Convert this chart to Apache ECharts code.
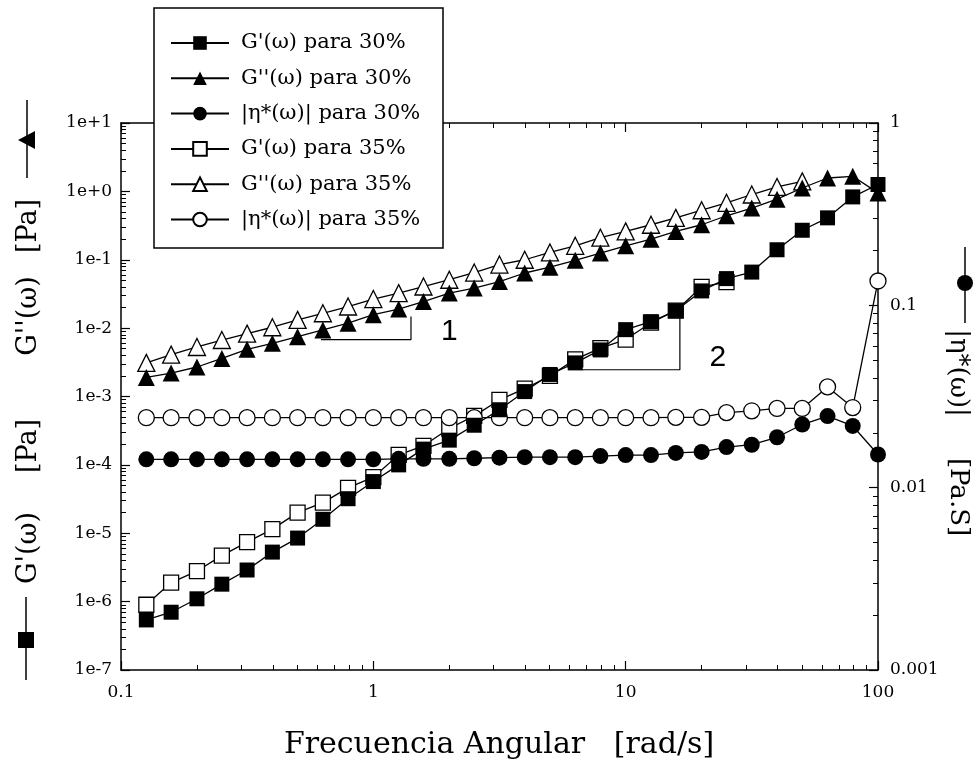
<!DOCTYPE html>
<html lang="es">
<head>
<meta charset="UTF-8">
<title>Frecuencia Angular</title>
<script src="https://cdn.jsdelivr.net/npm/echarts@6/dist/echarts.min.js"></script>
<style>
  html, body { margin: 0; padding: 0; background: #fff; }
  #app { width: 979px; height: 767px; }
</style>
</head>
<body>
<div id="app"></div>
<script>
// frecuencia angular [rad/s]
const freq = [0.126, 0.158, 0.2, 0.251, 0.316, 0.398, 0.501, 0.631, 0.794, 1,
  1.26, 1.58, 2, 2.51, 3.16, 3.98, 5.01, 6.31, 7.94, 10,
  12.6, 15.8, 20, 25.1, 31.6, 39.8, 50.1, 63.1, 79.4, 100]

// G' y G'' [Pa]
const gp30 = [5.4e-7, 7e-7, 1.1e-6, 1.8e-6, 2.9e-6, 5.3e-6, 8.5e-6, 1.6e-5, 3.2e-5, 5.7e-5,
  1.0e-4, 1.7e-4, 2.3e-4, 3.8e-4, 6.4e-4, 1.18e-3, 2.1e-3, 3.1e-3, 4.8e-3, 9.5e-3,
  1.24e-2, 1.8e-2, 3.5e-2, 5.3e-2, 6.6e-2, 0.14, 0.27, 0.41, 0.83, 1.26]
const gpp30 = [1.9e-3, 2.2e-3, 2.7e-3, 3.6e-3, 4.9e-3, 6.0e-3, 7.5e-3, 9.4e-3, 1.18e-2, 1.57e-2,
  1.9e-2, 2.45e-2, 3.25e-2, 3.85e-2, 0.048, 0.064, 0.078, 0.098, 0.125, 0.16,
  0.20, 0.26, 0.325, 0.44, 0.57, 0.77, 1.12, 1.57, 1.66, 0.95]
const gp35 = [9e-7, 1.9e-6, 2.8e-6, 4.7e-6, 7.4e-6, 1.15e-5, 2e-5, 2.8e-5, 4.6e-5, 6.6e-5,
  1.4e-4, 1.9e-4, 3.4e-4, 5.2e-4, 8.9e-4, 1.3e-3, 2.0e-3, 3.5e-3, 5.1e-3, 6.8e-3,
  1.2e-2, 1.8e-2, 4.0e-2, 4.7e-2]
const gpp35 = [3.1e-3, 4.1e-3, 5.3e-3, 6.7e-3, 8.3e-3, 1.03e-2, 1.32e-2, 1.65e-2, 2.07e-2, 2.66e-2,
  3.25e-2, 4.06e-2, 5.1e-2, 6.5e-2, 0.085, 0.10, 0.128, 0.16, 0.21, 0.26,
  0.325, 0.41, 0.53, 0.68, 0.9, 1.16, 1.4]

// |eta*| [Pa.s] (eje derecho)
const eta30 = [0.0143, 0.0143, 0.0143, 0.0143, 0.0143, 0.0143, 0.0143, 0.0143, 0.0143, 0.0143,
  0.0144, 0.0144, 0.0144, 0.0145, 0.0146, 0.0147, 0.0147, 0.0147, 0.0149, 0.0151,
  0.0151, 0.0155, 0.0157, 0.0167, 0.0172, 0.0189, 0.0222, 0.0247, 0.0218, 0.0152]
const eta35 = [0.0242, 0.0242, 0.0242, 0.0242, 0.0242, 0.0242, 0.0242, 0.0242, 0.0242, 0.0242,
  0.0242, 0.0242, 0.0242, 0.0242, 0.0242, 0.0242, 0.0242, 0.0242, 0.0242, 0.0242,
  0.0242, 0.0243, 0.0243, 0.0258, 0.0264, 0.0272, 0.0272, 0.0357, 0.0275, 0.136]

// pendientes
const slope1X = [0.62, 1.41, 1.41]
const slope1Y = [6.8e-3, 6.8e-3, 1.48e-2]
const slope2X = [6.7, 16.4, 16.4]
const slope2Y = [2.46e-3, 2.46e-3, 1.88e-2]
const slopeText = ['1', '2']
const slopeTextX = [2.0, 23.2]
const slopeTextY = [8.8e-3, 3.7e-3]

// etiquetas de los ejes
const xTickLabels = ['0.1', '1', '10', '100']
const yLeftLabels = ['1e-7', '1e-6', '1e-5', '1e-4', '1e-3', '1e-2', '1e-1', '1e+0', '1e+1']
const yRightLabels = ['0.001', '0.01', '0.1', '1']

const serif = 'DejaVu Serif'
let mCharts = echarts.init(document.getElementById('app'))

function pairs(xs, ys) {
  return ys.map((v, i) => [xs[i], v])
}
function minors(from, to) {
  let out = []
  for (let d = from; d < to; d++) {
    for (let k = 2; k <= 9; k++) out.push(d + Math.log10(k))
  }
  return out
}

const black = { color: '#000', width: 1.5 }
// ejes "de adorno" en espacio log10, solo para marcas y etiquetas
function tickAxis(pos, min, max, major, labels, minorVals) {
  return {
    type: 'value', position: pos, min: min, max: max, interval: 1,
    axisLine: { show: major, onZero: false, lineStyle: black },
    axisTick: major
      ? { show: true, inside: true, length: 9, lineStyle: { color: '#000', width: 1.2 } }
      : { show: true, inside: true, length: 5, customValues: minorVals, lineStyle: { color: '#000', width: 1 } },
    axisLabel: labels
      ? { show: true, color: '#000', fontFamily: serif, fontSize: 17,
          margin: pos === 'bottom' ? 14 : (pos === 'left' ? 9 : 12),
          formatter: v => labels[Math.round(v - min)] }
      : { show: false },
    splitLine: { show: false }
  }
}

const filled = (name, sym, size, data, yIdx) => ({
  name: name, type: 'line', data: data, xAxisIndex: 0, yAxisIndex: yIdx, z: 4,
  symbol: sym, symbolSize: size, showAllSymbol: true,
  itemStyle: { color: '#000' }, lineStyle: { color: '#000', width: 1.3 }
})
const hollow = (name, sym, size, data, yIdx) => ({
  name: name, type: 'line', data: data, xAxisIndex: 0, yAxisIndex: yIdx, z: 3,
  symbol: sym, symbolSize: size, showAllSymbol: true,
  itemStyle: { color: '#fff', borderColor: '#000', borderWidth: 1.3 },
  lineStyle: { color: '#000', width: 1.3 }
})
const bracket = (name, xs, ys) => ({
  name: name, type: 'line', data: pairs(xs, ys), xAxisIndex: 0, yAxisIndex: 0, z: 2,
  symbol: 'none', lineStyle: { color: '#000', width: 1.2 }
})

const names = ["G'(ω) para 30%", "G''(ω) para 30%", '|η*(ω)| para 30%',
  "G'(ω) para 35%", "G''(ω) para 35%", '|η*(ω)| para 35%']

const vText = (txt, x, y, rot, size) => ({
  type: 'text', x: x, y: y, rotation: rot,
  style: { text: txt, font: size + 'px "DejaVu Serif"', fill: '#000', align: 'center', verticalAlign: 'middle' }
})

let option = {
  animation: false,
  backgroundColor: '#fff',
  grid: { left: 121, right: 101, top: 123, bottom: 97 },
  xAxis: [
    { type: 'log', min: 0.1, max: 100, show: false },
    tickAxis('bottom', -1, 2, true, xTickLabels),
    tickAxis('bottom', -1, 2, false, null, minors(-1, 2)),
    tickAxis('top', -1, 2, true, null),
    tickAxis('top', -1, 2, false, null, minors(-1, 2))
  ],
  yAxis: [
    { type: 'log', min: 1e-7, max: 10, show: false },
    { type: 'log', min: 0.001, max: 1, show: false },
    tickAxis('left', -7, 1, true, yLeftLabels),
    tickAxis('left', -7, 1, false, null, minors(-7, 1)),
    tickAxis('right', -3, 0, true, yRightLabels),
    tickAxis('right', -3, 0, false, null, minors(-3, 0))
  ],
  legend: {
    orient: 'vertical', left: 170, top: 32, padding: 0, z: 8,
    itemWidth: 58, itemHeight: 17, itemGap: 13.3,
    data: names,
    textStyle: { fontFamily: serif, fontSize: 21, lineHeight: 22, color: '#000', padding: [0, 0, 0, 7] },
    selectedMode: false
  },
  graphic: [
    { type: 'rect', z: 7, shape: { x: 154, y: 8, width: 289, height: 240 },
      style: { fill: '#fff', stroke: '#000', lineWidth: 1.5 } },
    // titulo izquierdo
    { type: 'line', shape: { x1: 27, y1: 100, x2: 27, y2: 178 }, style: { stroke: '#000', lineWidth: 1.5 } },
    { type: 'polygon', shape: { points: [[18, 140], [35, 131], [35, 149]] }, style: { fill: '#000' } },
    { type: 'line', shape: { x1: 26, y1: 597, x2: 26, y2: 680 }, style: { stroke: '#000', lineWidth: 1.5 } },
    { type: 'rect', shape: { x: 18, y: 632, width: 16, height: 16 }, style: { fill: '#000' } },
    vText('[Pa]', 29, 226, Math.PI / 2, 27),
    vText("G''(ω)", 29, 316, Math.PI / 2, 27),
    vText('[Pa]', 29, 446, Math.PI / 2, 27),
    vText("G'(ω)", 29, 548, Math.PI / 2, 27),
    // titulo derecho
    { type: 'line', shape: { x1: 965, y1: 247, x2: 965, y2: 323 }, style: { stroke: '#000', lineWidth: 1.5 } },
    { type: 'circle', shape: { cx: 965, cy: 283, r: 8 }, style: { fill: '#000' } },
    vText('|η*(ω)|', 958, 373, -Math.PI / 2, 26),
    vText('[Pa.S]', 958, 497, -Math.PI / 2, 26),
    // titulo eje x
    { type: 'text', x: 499, y: 745,
      style: { text: 'Frecuencia Angular   [rad/s]', font: '30px "DejaVu Serif"', fill: '#000', align: 'center', verticalAlign: 'middle' } }
  ],
  series: [
    filled(names[0], 'rect', 15, pairs(freq, gp30), 0),
    filled(names[1], 'triangle', 17, pairs(freq, gpp30), 0),
    filled(names[2], 'circle', 16, pairs(freq, eta30), 1),
    hollow(names[3], 'rect', 15, pairs(freq, gp35), 0),
    hollow(names[4], 'triangle', 17, pairs(freq, gpp35), 0),
    hollow(names[5], 'circle', 16, pairs(freq, eta35), 1),
    bracket('pend1', slope1X, slope1Y),
    bracket('pend2', slope2X, slope2Y),
    {
      name: 'pendientes', type: 'scatter', xAxisIndex: 0, yAxisIndex: 0, symbolSize: 0, z: 2,
      itemStyle: { opacity: 1 },
      data: slopeText.map((t, i) => ({ name: t, value: [slopeTextX[i], slopeTextY[i]] })),
      label: { show: true, position: 'inside', formatter: '{b}', color: '#000', opacity: 1,
        fontFamily: 'Liberation Sans', fontSize: 30 }
    }
  ]
}
mCharts.setOption(option)
</script>
</body>
</html>
